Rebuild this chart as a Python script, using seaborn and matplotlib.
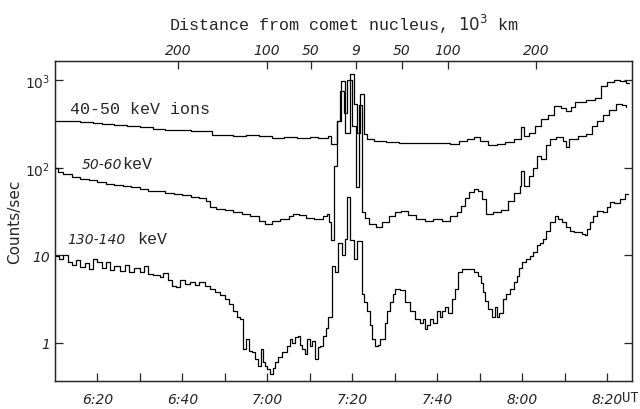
import numpy as np
import pandas as pd
import matplotlib
matplotlib.use("Agg")
import matplotlib.pyplot as plt
import matplotlib.ticker as mticker
import seaborn as sns

# ------------------------------------------------------------------------
# Data: time in minutes after 6:00 UT, counts/sec
# ------------------------------------------------------------------------
t_40 = [10, 13, 16, 19, 21, 24, 27, 30, 33, 36, 39, 42, 45, 47, 49, 52, 55, 58,
        61, 64, 67, 70, 72, 74.3, 75.0, 76.3, 77.2, 78.2, 79.4, 80.3, 81.0, 81.9,
        82.7, 83.4, 85, 88, 91, 94, 97, 100, 103, 105, 107, 108.5, 110, 112, 114,
        116, 118, 119.6, 120.3, 121.5, 123, 124.5, 126, 127.5, 129, 130.3, 131.5,
        132.5, 135, 137, 138.5, 140, 141.5, 143, 144.3, 145]
c_40 = [345, 340, 330, 325, 318, 310, 298, 290, 275, 270, 268, 265, 262, 240, 236,
        232, 236, 228, 222, 226, 218, 224, 220, 228, 185, 345, 990, 250, 1190, 540,
        250, 700, 245, 215, 205, 198, 193, 190, 192, 190, 188, 200, 215, 225, 205,
        180, 185, 198, 215, 295, 232, 250, 300, 365, 400, 510, 480, 450, 500, 570,
        600, 620, 850, 950, 1000, 980, 940, 940]

t_50 = [10, 10.7, 12, 14, 16, 18, 20, 22, 24, 26, 28, 30, 32, 34, 36, 38, 40, 42,
        44, 45.5, 46.5, 48, 50, 52, 54, 56, 58, 59.5, 61, 63, 65, 66, 67.5, 69, 71,
        73, 74, 74.6, 75, 75.6, 76.4, 77.1, 78.0, 78.8, 79.8, 80.8, 81.5, 82.3, 83,
        84, 85.5, 87, 88.5, 90, 91.5, 93, 95, 97, 99, 101, 103, 104.5, 105.5, 106.5,
        107.5, 108.5, 109.5, 110.5, 111.5, 113, 115, 116.5, 118, 119.4, 119.7,
        120.3, 121.5, 122.5, 123.5, 124.5, 125.5, 126.5, 128, 129.5, 130.2, 131,
        133, 135, 136.5, 137.5, 139, 140.5, 142, 143.5, 144.5]
c_50 = [100, 90, 86, 78, 75, 72, 69, 66, 64, 62, 60, 58, 55, 54, 52, 50, 49, 47,
        45, 42, 36, 34, 33, 31, 30, 28, 25, 23, 25, 26, 28, 30, 29, 27, 26, 28, 30,
        24, 15, 105, 340, 750, 420, 1000, 300, 60, 520, 31, 27, 23, 21, 24, 28, 31,
        32, 29, 26, 25, 26, 25, 28, 31, 37, 45, 53, 58, 55, 44, 30, 31, 33, 42, 52,
        62, 92, 62, 81, 100, 137, 127, 180, 215, 225, 200, 175, 215, 230, 245, 300,
        340, 400, 460, 540, 520, 500]

t_130 = [10, 11, 12, 13, 14, 15, 16, 17, 18, 19, 20, 21, 22, 23, 24, 25.3, 26.5,
         27.5, 28.5, 30, 31, 32, 33, 34.7, 35.5, 36.5, 37.5, 38.5, 39.5, 40.5, 41.8,
         43, 44, 45.3, 46.5, 47.6, 48.8, 50.0, 51, 51.9, 52.8, 53.5, 54.2, 55.0,
         55.6, 56.4, 57.0, 57.8, 58.5, 59.0, 59.4, 60.0, 60.6, 61.2, 61.8, 62.5,
         63.4, 64.6, 65.3, 65.8, 66.5, 67.2, 67.6, 68.1, 68.8, 69.3, 70.0, 70.6,
         71.2, 71.8, 72.4, 73.1, 73.8, 74.3, 75.2, 75.9, 76.6, 77.5, 78.2, 78.8,
         79.4, 80.4, 81.0, 82.2, 82.7, 83.4, 84.1, 84.6, 85.3, 86, 86.5, 87.6, 88.2,
         88.8, 89.5, 90.0, 91.2, 92.4, 93.5, 94.7, 95.9, 96.5, 97.1, 97.6, 98.2,
         99.0, 99.9, 100.6, 101.2, 101.8, 102.5, 103.4, 104.1, 104.8, 105.8, 107.6,
         108.6, 109.5, 110.2, 110.7, 111.3, 111.9, 112.8, 113.5, 114.0, 114.5,
         115.4, 116.2, 117.1, 118.0, 118.7, 119.3, 119.9, 120.8, 121.8, 122.6,
         123.4, 124.2, 124.8, 125.6, 126.5, 127.6, 128.5, 129.3, 130.3, 131.2,
         132.2, 133.1, 134.0, 134.7, 135.3, 135.9, 136.7, 137.5, 138.9, 139.8,
         140.6, 141.5, 142.9, 144.1, 144.8]
c_130 = [9.8, 9.1, 10, 8.5, 7.8, 8.8, 7.4, 8.2, 7.0, 9.0, 8.4, 7.2, 8.3, 6.8, 7.6,
         6.6, 7.8, 6.5, 7.2, 6.5, 7.5, 6.2, 6.0, 5.7, 6.3, 5.2, 4.5, 4.4, 5.2, 4.7,
         5.0, 4.6, 5.0, 4.5, 4.1, 3.8, 3.5, 3.2, 2.8, 2.3, 2.0, 1.9, 0.85, 1.1, 0.8,
         0.79, 0.65, 0.55, 0.85, 0.6, 0.55, 0.5, 0.44, 0.52, 0.6, 0.7, 0.79, 0.92,
         1.1, 1.0, 1.17, 1.2, 0.95, 0.85, 0.75, 1.1, 0.92, 1.05, 0.66, 0.9, 0.92,
         1.2, 1.5, 2.0, 7.6, 6.5, 14, 10, 15.5, 47, 15, 9, 14.6, 3.6, 2.9, 2.3, 1.6,
         1.1, 0.92, 0.95, 1.1, 1.7, 2.3, 2.9, 3.6, 4.1, 4.0, 2.9, 2.3, 1.9, 1.7, 1.9,
         1.45, 1.6, 1.9, 1.7, 2.3, 2.0, 2.3, 2.6, 2.2, 3.2, 4.1, 6.5, 7.0, 7.0, 6.5,
         5.8, 4.8, 3.8, 3.0, 2.45, 2.0, 2.6, 2.0, 2.2, 3.2, 3.6, 4.1, 5.0, 5.8, 7.2,
         8.4, 9.0, 9.8, 11, 13, 14, 15.5, 19, 24, 28, 26, 24, 21, 19, 18.5, 18.5,
         17.5, 17, 20, 24, 28, 32, 31, 36, 41, 40, 44, 50, 50]

# bottom axis (UT) and top axis (distance, 10^3 km)
time_ticks = [20, 40, 60, 80, 100, 120, 140]
time_labels = ["6:20", "6:40", "7:00", "7:20", "7:40", "8:00", "8:20"]
dist_ticks = [38.9, 59.9, 70.2, 80.8, 91.6, 102.5, 123.2]
dist_labels = ["200", "100", "50", "9", "50", "100", "200"]

# ------------------------------------------------------------------------
# Plot
# ------------------------------------------------------------------------
sns.set_style("ticks")
plt.rcParams['font.family'] = ['DejaVu Sans']

fig = plt.figure(figsize=(6.4, 4.1), dpi=100)
ax = fig.add_axes([55 / 640, 1 - 382 / 410, (632 - 55) / 640, (382 - 62) / 410])

for t, c in [(t_40, c_40), (t_50, c_50), (t_130, c_130)]:
    df = pd.DataFrame({"t": t, "c": c})
    sns.lineplot(data=df, x="t", y="c", ax=ax, color="black", lw=0.9,
                 drawstyle="steps-post", estimator=None, sort=False)

ax.set_yscale("log")
ax.set_xlim(10, 145.8)
ax.set_ylim(0.368, 1660)
ax.set_xlabel("")
ax.set_ylabel("Counts/sec", fontsize=11, labelpad=2)

ax.yaxis.set_major_locator(mticker.FixedLocator([1, 10, 100, 1000]))
ax.yaxis.set_minor_locator(mticker.NullLocator())
ax.set_yticklabels(["1", "10", "$10^2$", "$10^3$"], fontstyle="italic", fontsize=10)

ax.set_xticks(time_ticks)
ax.set_xticklabels(time_labels, fontstyle="italic", fontsize=10)
ax.xaxis.set_minor_locator(mticker.FixedLocator([30, 50, 70, 90, 110, 130]))
ax.tick_params(axis="both", which="both", direction="in", length=6, width=0.9,
               right=True)
ax.tick_params(axis="x", which="major", pad=8)
for s in ax.spines.values():
    s.set_linewidth(1.0)

ax2 = ax.twiny()
ax2.set_xlim(ax.get_xlim())
ax2.set_xticks(dist_ticks)
ax2.set_xticklabels(dist_labels, fontstyle="italic", fontsize=10)
ax2.tick_params(axis="x", direction="in", length=6, width=0.9, pad=3)
ax2.set_xlabel("Distance from comet nucleus, $10^3$ km", family="Liberation Mono",
               fontsize=12, labelpad=9)

# curve labels
ax.text(13.5, 470, "40-50 keV ions", family="Liberation Mono", fontsize=12,
        va="center")
ax.text(16.4, 111, "50-60", fontstyle="italic", fontsize=10, va="center")
ax.text(25.8, 111, "keV", family="Liberation Mono", fontsize=12, va="center")
ax.text(12.8, 15.5, "130-140", fontstyle="italic", fontsize=10, va="center")
ax.text(29.3, 15.5, "keV", family="Liberation Mono", fontsize=12, va="center")

fig.text(0.972, 1 - 398 / 410, "UT", family="Liberation Mono", fontsize=10,
         va="center")

fig.savefig("out.png", dpi=100)
